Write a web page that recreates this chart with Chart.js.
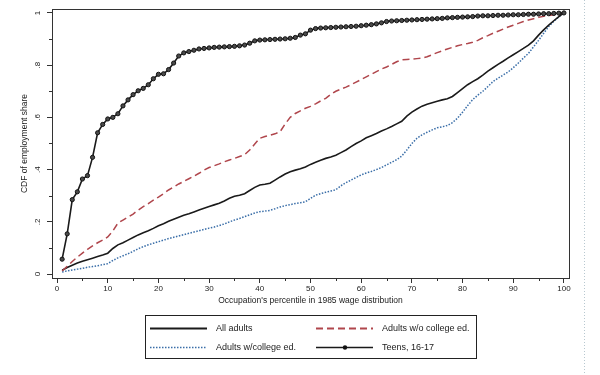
<!DOCTYPE html>
<html>
<head>
<meta charset="utf-8">
<script src="https://cdn.jsdelivr.net/npm/chart.js@4.4.1/dist/chart.umd.min.js"></script>
<style>
  html, body { margin: 0; padding: 0; background: #fff; }
  #wrap { width: 600px; height: 375px; }
</style>
</head>
<body>
<div id="wrap"><canvas id="cdfChart" width="600" height="375"></canvas></div>
<script>
// occupation percentiles in the 1985 wage distribution
const percentiles = Array.from({ length: 100 }, (_, i) => i + 1);

const allAdults = [
  .015, .025, .034, .042, .049, .055, .061, .067, .073, .080,
  .098, .112, .120, .130, .140, .150, .158, .166, .175, .185,
  .193, .202, .210, .218, .225, .231, .238, .245, .252, .259,
  .265, .271, .280, .290, .298, .302, .308, .320, .332, .341,
  .344, .348, .360, .372, .383, .392, .398, .403, .410, .420,
  .428, .436, .443, .448, .455, .465, .475, .488, .500, .510,
  .522, .530, .538, .548, .556, .565, .575, .585, .605, .620,
  .632, .643, .650, .656, .662, .667, .671, .680, .695, .710,
  .725, .737, .748, .762, .777, .790, .803, .815, .828, .840,
  .852, .864, .877, .893, .915, .935, .953, .970, .986, 1.0
];

const adultsNoCollege = [
  .012, .030, .048, .065, .080, .095, .108, .120, .130, .142,
  .165, .195, .207, .218, .230, .245, .258, .270, .283, .295,
  .308, .322, .333, .345, .355, .365, .375, .386, .398, .408,
  .415, .422, .430, .437, .443, .450, .457, .475, .498, .520,
  .527, .532, .537, .545, .575, .600, .615, .625, .635, .642,
  .652, .663, .673, .688, .700, .708, .716, .725, .735, .745,
  .755, .765, .775, .785, .793, .803, .813, .820, .822, .823,
  .825, .827, .832, .840, .848, .855, .862, .868, .874, .879,
  .883, .888, .895, .905, .913, .922, .930, .938, .946, .953,
  .960, .967, .973, .978, .983, .987, .990, .993, .997, 1.0
];

const adultsCollege = [
  .008, .012, .016, .019, .022, .026, .029, .032, .036, .040,
  .052, .062, .070, .078, .087, .097, .105, .112, .118, .124,
  .130, .136, .141, .146, .151, .156, .161, .166, .171, .176,
  .180, .186, .192, .200, .207, .213, .220, .227, .234, .239,
  .241, .244, .250, .257, .262, .266, .270, .273, .277, .290,
  .302, .308, .313, .318, .323, .338, .350, .360, .370, .380,
  .387, .393, .400, .408, .418, .428, .438, .452, .475, .500,
  .520, .533, .543, .552, .560, .564, .569, .580, .597, .620,
  .645, .668, .685, .700, .718, .737, .750, .762, .774, .790,
  .808, .827, .845, .870, .895, .922, .948, .968, .985, 1.0
];

const teens = [
  .057, .154, .285, .315, .364, .377, .447, .541, .573, .594,
  .600, .614, .644, .667, .687, .702, .711, .725, .748, .765,
  .767, .783, .808, .835, .847, .852, .857, .862, .864, .866,
  .868, .869, .870, .871, .872, .874, .877, .884, .893, .896,
  .897, .898, .899, .900, .901, .903, .906, .915, .920, .934,
  .940, .942, .943, .944, .945, .946, .947, .948, .949, .951,
  .953, .955, .958, .962, .967, .969, .970, .971, .972, .973,
  .974, .975, .976, .977, .978, .979, .981, .982, .983, .984,
  .985, .986, .988, .989, .989, .990, .991, .991, .992, .993,
  .993, .994, .995, .995, .996, .997, .997, .998, .999, 1.0
];

const xTicks = [0, 10, 20, 30, 40, 50, 60, 70, 80, 90, 100];
const yTicks = [0, .2, .4, .6, .8, 1];
const yTickLabels = ['0', '.2', '.4', '.6', '.8', '1'];

function pts(values) {
  return values.map((v, i) => ({ x: percentiles[i], y: v }));
}

const FONT = '"Liberation Sans", Arial, sans-serif';

// frame, minor ticks, rotated y labels and the legend box
const extras = {
  id: 'extras',
  afterDraw(chart) {
    const ctx = chart.ctx;
    const a = chart.chartArea;
    const xs = chart.scales.x, ys = chart.scales.y;
    ctx.save();
    ctx.strokeStyle = '#333';
    ctx.lineWidth = 1;
    ctx.strokeRect(Math.round(a.left) + 0.5, Math.round(a.top) + 0.5,
      Math.round(a.right - a.left), Math.round(a.bottom - a.top));

    // minor ticks
    ctx.beginPath();
    for (let i = 0; i < xTicks.length - 1; i++) {
      const px = Math.round(xs.getPixelForValue((xTicks[i] + xTicks[i + 1]) / 2)) + 0.5;
      ctx.moveTo(px, a.bottom);
      ctx.lineTo(px, a.bottom + 3);
    }
    for (let i = 0; i < yTicks.length - 1; i++) {
      const py = Math.round(ys.getPixelForValue((yTicks[i] + yTicks[i + 1]) / 2)) + 0.5;
      ctx.moveTo(a.left, py);
      ctx.lineTo(a.left - 3, py);
    }
    ctx.stroke();

    // y tick labels, rotated like the original
    ctx.fillStyle = '#222';
    ctx.font = '8px ' + FONT;
    ctx.textAlign = 'center';
    ctx.textBaseline = 'middle';
    yTicks.forEach((v, i) => {
      const py = ys.getPixelForValue(v);
      ctx.save();
      ctx.translate(a.left - 14, py);
      ctx.rotate(-Math.PI / 2);
      ctx.fillText(yTickLabels[i], 0, 0);
      ctx.restore();
    });

    // faint dotted line at the right edge of the figure
    ctx.strokeStyle = '#b8c8d0';
    ctx.setLineDash([1, 2]);
    ctx.beginPath();
    ctx.moveTo(584.5, 0);
    ctx.lineTo(584.5, 375);
    ctx.stroke();
    ctx.setLineDash([]);

    // legend
    const box = { left: 145, top: 315, right: 476, bottom: 358 };
    ctx.strokeStyle = '#222';
    ctx.strokeRect(box.left + 0.5, box.top + 0.5, box.right - box.left, box.bottom - box.top);
    const order = [0, 1, 2, 3];
    const slots = [
      { x: 150, y: 328 }, { x: 316, y: 328 },
      { x: 150, y: 347 }, { x: 316, y: 347 }
    ];
    ctx.font = '9px ' + FONT;
    ctx.textAlign = 'left';
    ctx.textBaseline = 'middle';
    order.forEach((di, k) => {
      const ds = chart.data.datasets[di];
      const s = slots[k];
      ctx.strokeStyle = ds.borderColor;
      ctx.lineWidth = ds.legendWidth || ds.borderWidth;
      ctx.setLineDash(ds.borderDash || []);
      ctx.beginPath();
      ctx.moveTo(s.x, s.y + 0.5);
      ctx.lineTo(s.x + 57, s.y + 0.5);
      ctx.stroke();
      ctx.setLineDash([]);
      if (ds.pointRadius > 0) {
        ctx.fillStyle = '#111';
        ctx.beginPath();
        ctx.arc(s.x + 29, s.y + 0.5, 2.2, 0, Math.PI * 2);
        ctx.fill();
      }
      ctx.fillStyle = '#222';
      ctx.fillText(ds.label, s.x + 66, s.y + 0.5);
    });
    ctx.restore();
  }
};

const ctx = document.getElementById('cdfChart').getContext('2d');
const cdfChart = new Chart(ctx, {
  type: 'line',
  data: {
    datasets: [
      {
        label: 'All adults',
        data: pts(allAdults),
        borderColor: '#1a1a1a',
        borderWidth: 1.6,
        legendWidth: 2.2,
        pointRadius: 0,
        order: 3
      },
      {
        label: 'Adults w/o college ed.',
        data: pts(adultsNoCollege),
        borderColor: '#b0464c',
        borderWidth: 1.5,
        legendWidth: 2.2,
        borderDash: [7, 4],
        pointRadius: 0,
        order: 2
      },
      {
        label: 'Adults w/college ed.',
        data: pts(adultsCollege),
        borderColor: '#3a6ea8',
        borderWidth: 1.5,
        borderDash: [1.5, 1.5],
        pointRadius: 0,
        order: 4
      },
      {
        label: 'Teens, 16-17',
        data: pts(teens),
        borderColor: '#1a1a1a',
        borderWidth: 1.6,
        pointRadius: 2.1,
        pointBorderWidth: 1,
        pointBackgroundColor: '#4a4a4a',
        pointBorderColor: '#111',
        order: 1
      }
    ]
  },
  options: {
    responsive: false,
    animation: false,
    layout: { padding: { left: 0, top: 9, right: 31, bottom: 67 } },
    plugins: {
      legend: { display: false },
      tooltip: { enabled: false }
    },
    scales: {
      x: {
        type: 'linear',
        min: -1,
        max: 101,
        afterBuildTicks: s => { s.ticks = xTicks.map(v => ({ value: v })); },
        afterFit: s => { s.height = 30; },
        grid: { drawOnChartArea: false, drawTicks: true, tickLength: 5, color: '#333' },
        border: { display: false },
        ticks: { color: '#222', font: { family: FONT, size: 8 }, padding: 1, maxRotation: 0 },
        title: {
          display: true,
          text: "Occupation's percentile in 1985 wage distribution",
          color: '#222',
          font: { family: FONT, size: 8.5 },
          padding: { top: 0, bottom: 2 }
        }
      },
      y: {
        type: 'linear',
        min: -0.015,
        max: 1.015,
        afterBuildTicks: s => { s.ticks = yTicks.map(v => ({ value: v })); },
        afterFit: s => { s.width = 52; },
        grid: { drawOnChartArea: false, drawTicks: true, tickLength: 5, color: '#333' },
        border: { display: false },
        ticks: { display: false },
        title: {
          display: true,
          text: 'CDF of employment share',
          color: '#222',
          font: { family: FONT, size: 8.5 },
          padding: { top: 20, bottom: 0 }
        }
      }
    }
  },
  plugins: [extras]
});
</script>
</body>
</html>
